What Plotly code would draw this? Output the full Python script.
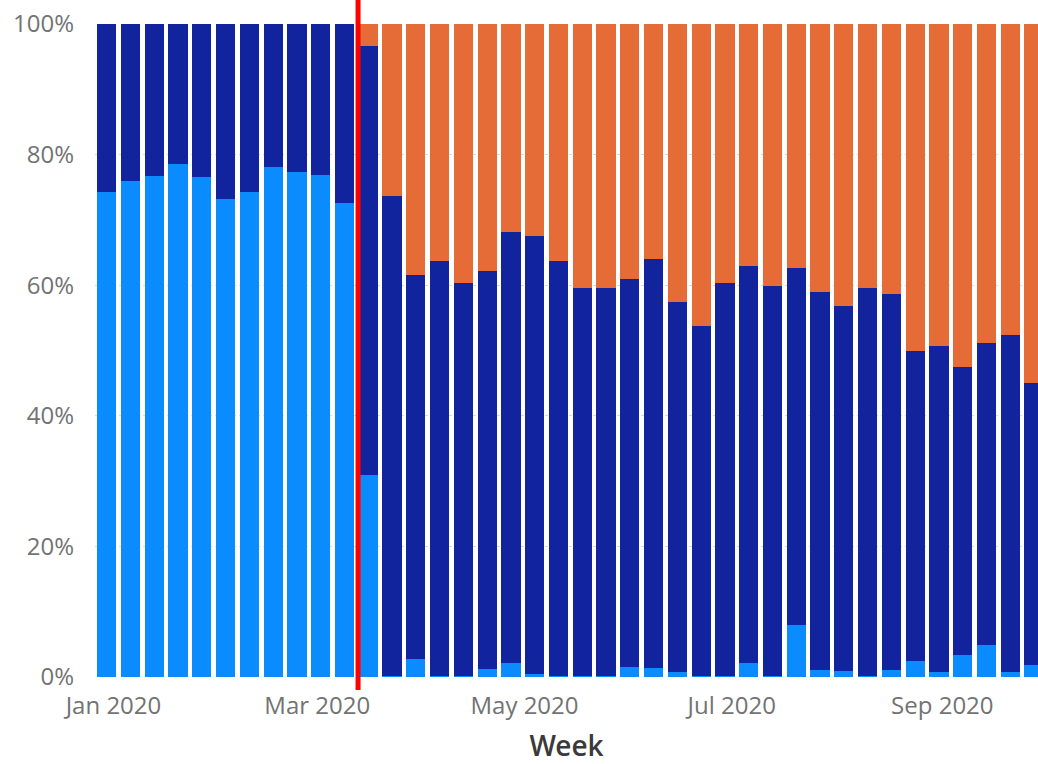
import pandas as pd
import plotly.graph_objects as go

# Weekly periods (week starting Monday)
weeks = pd.date_range("2019-12-30", periods=40, freq="7D")

# Share of each category per week (%)
light_blue = [74.2, 76.0, 76.7, 78.5, 76.6, 73.2, 74.3, 78.1, 77.3, 76.9, 72.6,
              30.9, 0.2, 2.8, 0.1, 0.1, 1.2, 2.1, 0.5, 0.1, 0.1, 0.1, 1.6, 1.4, 0.7,
              0.1, 0.1, 2.2, 0.1, 8.0, 1.1, 0.9, 0.1, 1.1, 2.4, 0.7, 3.4, 4.9, 0.7, 1.8]
dark_blue = [25.8, 24.0, 23.3, 21.5, 23.4, 26.8, 25.7, 21.9, 22.7, 23.1, 27.4,
             65.7, 73.5, 58.8, 63.6, 60.2, 61.0, 66.0, 67.0, 63.6, 59.4, 59.4, 59.4, 62.6, 56.8,
             53.6, 60.3, 60.8, 59.8, 54.7, 57.9, 55.9, 59.4, 57.5, 47.5, 50.0, 44.1, 46.3, 51.6, 43.3]
orange = [0, 0, 0, 0, 0, 0, 0, 0, 0, 0, 0,
          3.4, 26.3, 38.4, 36.3, 39.7, 37.8, 31.9, 32.5, 36.3, 40.5, 40.5, 39.0, 36.0, 42.5,
          46.3, 39.6, 37.0, 40.1, 37.3, 41.0, 43.2, 40.5, 41.4, 50.1, 49.3, 52.5, 48.8, 47.7, 54.9]

series_names = ["Series A", "Series B", "Series C"]
series_colors = ["#0A8CFF", "#12239E", "#E66C37"]

marker_date = "2020-03-13"
x_range = ["2019-12-26 13:26", "2020-09-29 04:00"]
y_ticks = [0, 20, 40, 60, 80, 100]
y_tick_text = ["0%", "20%", "40%", "60%", "80%", "100%"]

fig = go.Figure()
for name, vals, col in zip(series_names, [light_blue, dark_blue, orange], series_colors):
    fig.add_trace(go.Bar(x=weeks, y=vals, name=name, marker_color=col,
                         marker_line_width=0))

font_family = "Segoe UI, Open Sans, Noto Sans, sans-serif"
fig.update_layout(
    width=1038, height=764,
    margin=dict(l=95, r=0, t=24, b=87),
    barmode="stack", barnorm="percent", bargap=0.19,
    plot_bgcolor="white", paper_bgcolor="white",
    showlegend=False,
    font=dict(family=font_family, color="#777777", size=24),
)
fig.update_xaxes(
    type="date", range=x_range, dtick="M2", tick0="2020-01-01",
    tickformat="%b %Y", showgrid=False, zeroline=False, ticks="",
    ticklabelstandoff=12,
    tickfont=dict(size=24, color="#737373"),
    title=dict(text="Week", font=dict(size=28, color="#3a3a3a",
                                       family="Open Sans SemiBold, Open Sans, sans-serif",
                                       weight=600),
               standoff=16),
)
fig.update_yaxes(
    range=[0, 100], tickvals=y_ticks, ticktext=y_tick_text,
    showgrid=True, gridcolor="#d9d9d9", griddash="dot", gridwidth=1,
    zeroline=False, ticks="", ticklabelstandoff=20,
    tickfont=dict(size=24, color="#737373"),
)
fig.add_shape(type="line", x0=marker_date, x1=marker_date, xref="x",
              y0=-0.02, y1=1.04, yref="paper",
              line=dict(color="#FF0000", width=5))

fig.write_html("out.html", config={"displayModeBar": False},
               post_script="document.body.style.margin='0px';")
